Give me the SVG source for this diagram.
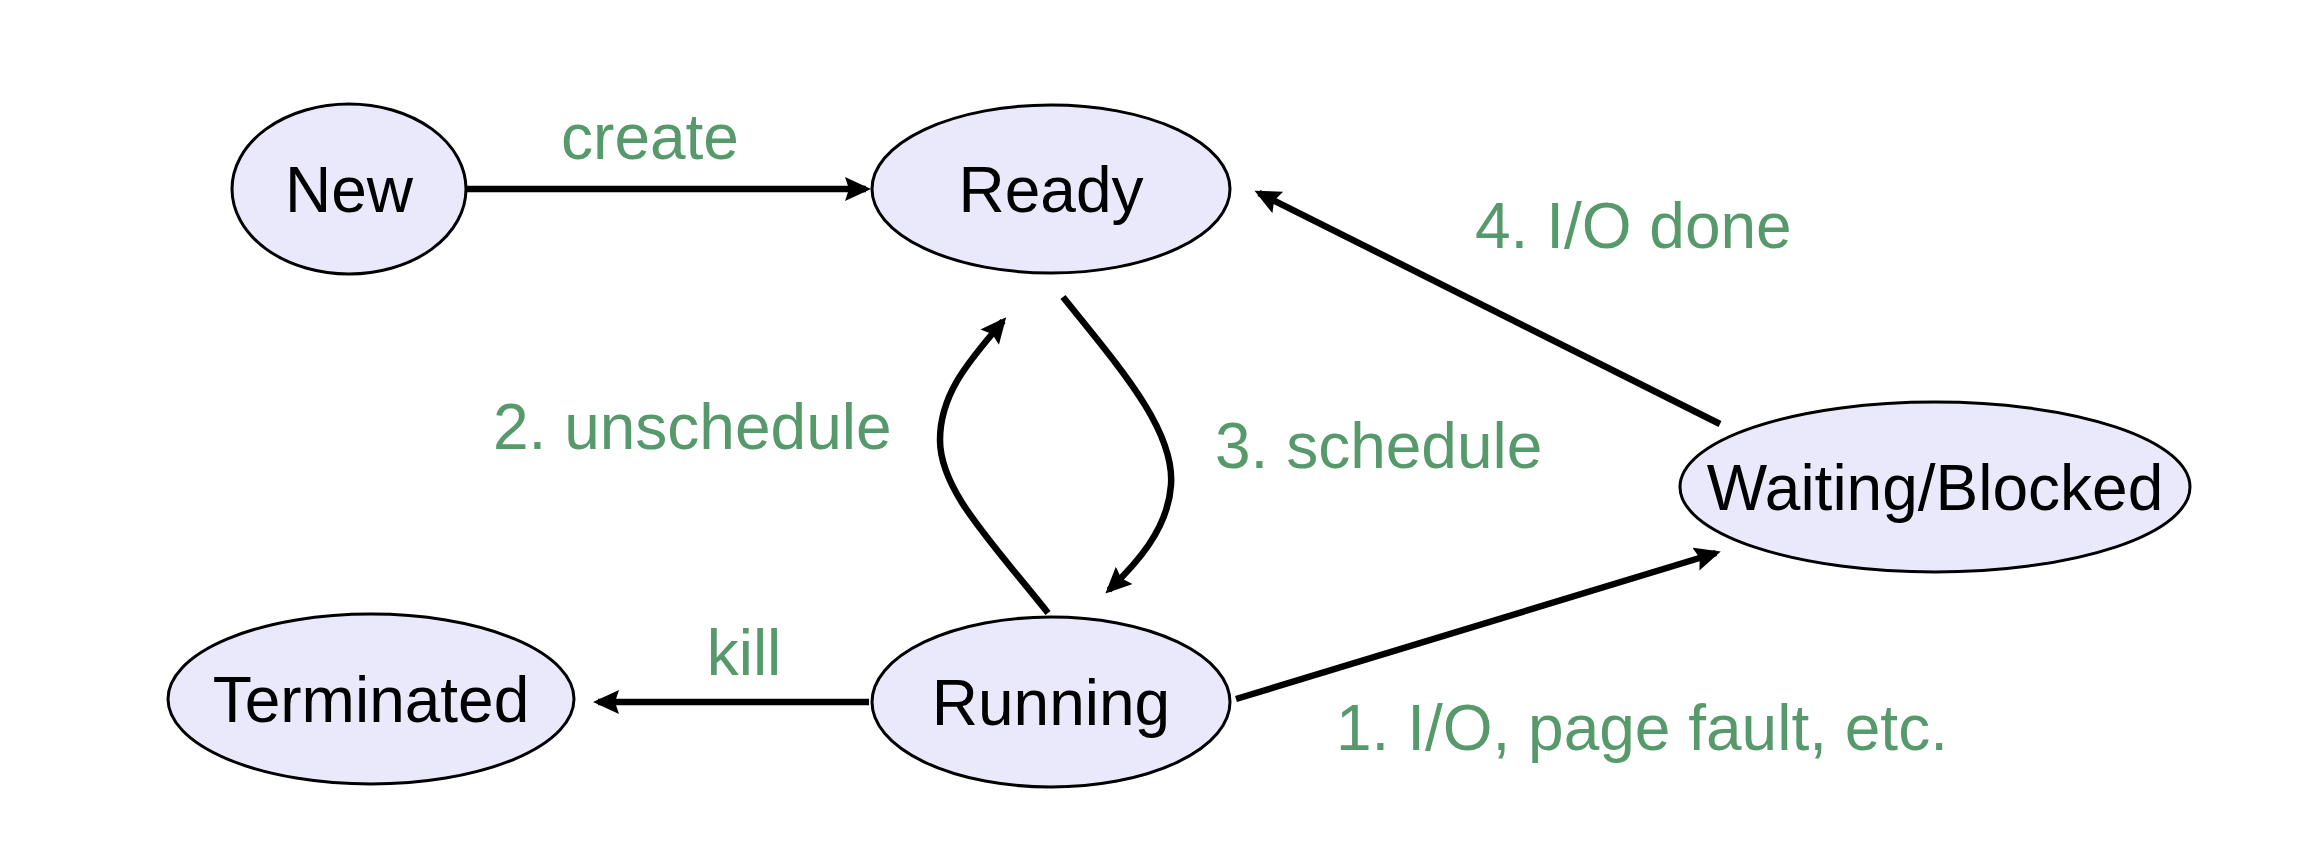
<svg xmlns="http://www.w3.org/2000/svg" width="2302" height="844" viewBox="0 0 2302 844">
<style>
.node ellipse{fill:#e9e9fb;stroke:#000;stroke-width:3}
.node text{font-family:"Liberation Sans",Arial,sans-serif;font-size:64px;fill:#000;text-anchor:middle}
.lbl{font-family:"Liberation Sans",Arial,sans-serif;font-size:64px;fill:#56996b}
.edge{fill:none;stroke:#000;stroke-width:6.5;marker-end:url(#ah)}
</style>
<defs>
<marker id="ah" markerUnits="userSpaceOnUse" markerWidth="28" markerHeight="26" refX="21" refY="12" orient="auto">
<path d="M0,0 L26,12 L0,24 L4,12 z" fill="#000"/>
</marker>
</defs>
<rect width="2302" height="844" fill="#fff"/>
<g id="connectors">
<path class="edge" d="M467,189 L866,189"/>
<path class="edge" d="M869,702 L598,702"/>
<path class="edge" d="M1236,699 L1716,553"/>
<path class="edge" d="M1720,424 L1259,193"/>
<path class="edge" d="M1063,297 C1120,368 1175,430 1171,485 C1168,530 1135,565 1109,590"/>
<path class="edge" d="M1048,613 C990,540 940,490 940,440 C940,390 975,355 1003,321"/>
<text class="lbl" x="650" y="159" text-anchor="middle">create</text>
<text class="lbl" x="1475" y="248">4. I/O done</text>
<text class="lbl" x="493" y="449">2. unschedule</text>
<text class="lbl" x="1215" y="468">3. schedule</text>
<text class="lbl" x="744" y="675" text-anchor="middle">kill</text>
<text class="lbl" x="1336" y="750">1. I/O, page fault, etc.</text>
</g>
<g id="new" class="node"><ellipse cx="349" cy="189" rx="117" ry="85"/><text x="349" y="212">New</text></g>
<g id="ready" class="node"><ellipse cx="1051" cy="189" rx="179" ry="84"/><text x="1051" y="212">Ready</text></g>
<g id="terminated" class="node"><ellipse cx="371" cy="699" rx="203" ry="85"/><text x="371" y="722">Terminated</text></g>
<g id="running" class="node"><ellipse cx="1051" cy="702" rx="179" ry="85"/><text x="1051" y="725">Running</text></g>
<g id="waiting" class="node"><ellipse cx="1935" cy="487" rx="255" ry="85"/><text x="1935" y="510">Waiting/Blocked</text></g>
</svg>
